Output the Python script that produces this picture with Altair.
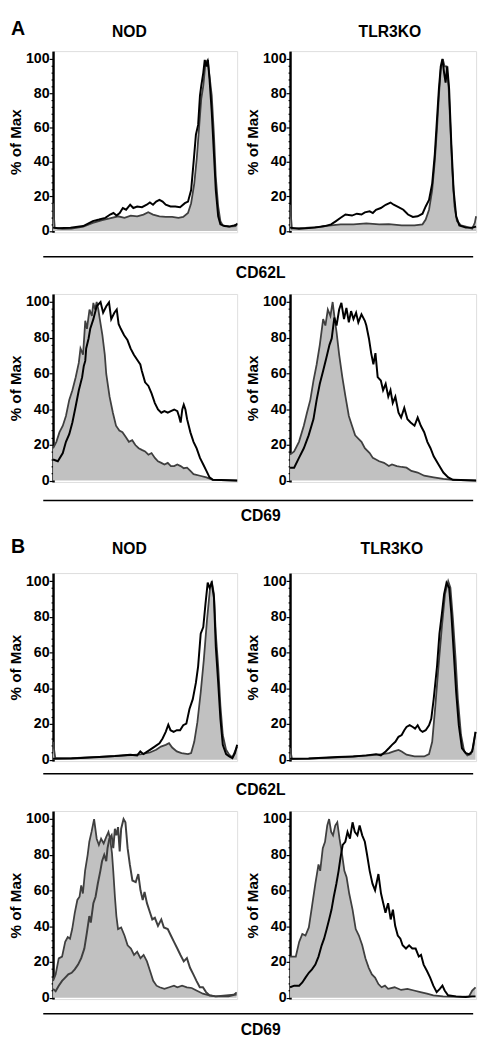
import altair as alt
import pandas as pd

FONT = "Liberation Sans"
SECTIONS = ["A", "B"]
STRAINS = ["NOD", "TLR3KO"]
MARKERS = ["CD62L", "CD69"]
Y_TITLE = "% of Max"
Y_TICKS = [0, 4, 8, 12, 16, 20, 24, 28, 32, 36, 40, 44, 48, 52, 56, 60,
           64, 68, 72, 76, 80, 84, 88, 92, 96, 100]

FILL_COLOR = "#c1c1c1"
GRAY_LINE = "#3f3f3f"

# (position along the axis in % of width, % of Max)
A_CD62L_NOD_FILL = [(0,16),(0.9,1.9),(5,1.2),(10,1.3),(16.4,2.5),(21.6,4.7),(26.7,6.3),(31.9,7.6),(35.3,8.5),(38.8,7.6),(42.2,8.9),(45.7,8.5),(49.1,9.5),(51.7,10.8),(54.3,9.5),(57.8,8.5),(61.2,8.1),(64.7,8.1),(68.1,7.6),(70.7,8.1),(73.3,10.4),(75,16.1),(76.7,27.5),(78.1,42.6),(79.3,59.7),(80.5,76.7),(81.6,84.3),(82.8,97.5),(84,99.4),(85,90),(86.2,78.6),(87.4,55.9),(88.4,31.3),(89.7,14.2),(90.9,5.7),(92.2,3.2),(95.7,2.5),(99.1,2.8),(100,4.4)]
A_CD62L_NOD_OPEN = [(0,1.9),(2.6,1.5),(9.5,1.9),(16.4,2.8),(21.6,5.7),(25,6.6),(28.4,7.6),(31,9.5),(32.8,10.4),(34.5,8.9),(36.2,10.4),(37.9,13.3),(39.7,12.3),(41.9,15.2),(43.6,13.3),(45.7,14.2),(48.3,13.8),(50.9,15.2),(52.6,16.5),(54.3,15.2),(56,17),(57.8,18),(59.5,17),(61.2,15.2),(63.8,14.2),(66.4,14.2),(69,13.8),(71.6,16.1),(73.3,17),(75,23.7),(76.4,40.7),(77.6,55.9),(78.8,61.6),(79.8,78.6),(80.5,84.3),(81.6,91.9),(82.4,99.4),(83.3,95.6),(84.1,99.4),(85,88),(86.2,69.1),(87.4,44.5),(88.4,23.7),(89.7,8.5),(90.9,3.8),(93.1,2.8),(95.7,2.5),(98.3,3.2),(100,3.8)]

A_CD62L_TLR3KO_FILL = [(0,15.2),(1,1.3),(8.3,1.7),(16.9,2.5),(22.1,3.2),(27.2,3.8),(34.1,3.8),(41,4.4),(47.9,3.8),(53.1,4),(60,3.2),(66.9,3.2),(71.2,3.8),(72.9,6.6),(74.7,12.3),(76.4,23.7),(77.8,40.7),(79,59.7),(80,78.6),(81,93.8),(82.1,99.8),(83.1,95.6),(84.1,95.6),(85.2,84.3),(86.2,59.7),(87.2,35),(88.4,14.2),(89.7,5.7),(91.9,3.2),(94.5,2.5),(97.9,1.3),(99.3,4.7),(100,8.5)]
A_CD62L_TLR3KO_OPEN = [(0,1.9),(4.8,1.3),(13.4,1.9),(18.6,2.8),(22.1,3.8),(24.7,5.7),(27.2,7.6),(29.8,9.5),(33.3,8.9),(35.9,10),(38.4,9.5),(40.2,10.8),(42.8,11.4),(44.5,10.4),(46.2,12.3),(48.8,13.3),(51.4,15.2),(54,16.5),(55.7,15.2),(58.3,13.8),(60.9,12.3),(63.4,9.5),(66,8.1),(68.6,8.5),(71.2,10),(72.9,14.2),(74.7,18),(76.4,27.5),(77.8,44.5),(79,65.3),(80,82.4),(81,95.6),(81.9,100),(82.8,91.9),(83.6,86.2),(84.5,95.6),(85.5,82.4),(86.7,50.2),(87.9,23.7),(89.3,8.5),(91,3.2),(94.5,1.9),(97.9,1.9),(100,2.5)]

A_CD69_NOD_FILL = [(0,18.1),(1.8,21.7),(3.5,27.1),(5.3,30.7),(7,36.2),(8.8,45.2),(10.5,50.6),(12.3,57.9),(14,66),(14.9,74),(16.3,70.5),(17.5,89.5),(18.4,85),(19.8,95.8),(21.1,92.2),(21.9,99.5),(22.8,95.8),(23.7,100),(24.6,95.8),(25.4,90.4),(26.8,81.4),(28.1,70.5),(28.9,59.7),(30.7,47),(32.5,38),(34.2,30.7),(36,28),(37.7,27.1),(39.5,24.4),(41.2,21.7),(43,22.6),(44.7,19.9),(46.5,18.1),(48.2,17.2),(50,16.3),(51.8,14.5),(53.5,15.4),(55.3,12.7),(57,10.8),(58.8,9.9),(60.5,9),(62.3,9.9),(64,8.1),(65.8,8.1),(67.5,9),(69.3,8.1),(71,6.9),(72.8,7.2),(74.6,5.4),(76.3,3.6),(79.8,2.7),(83.3,1.8),(86.8,0.4),(100,0)]
A_CD69_NOD_OPEN = [(0,11.8),(2.6,10.8),(5.3,15.4),(7,21.7),(8.8,26),(10.5,32.5),(12.3,41.6),(14,50.6),(15.8,57.9),(16.7,64.2),(17.5,67),(18,74),(19.3,79.6),(20.2,85),(21.9,90.4),(23.7,97.6),(25.8,100),(27.2,94),(28.9,97.6),(30.4,99.8),(31.6,90.4),(33.3,94),(34.6,95.8),(35.6,87.7),(36.8,85),(38.6,81.4),(40.4,78.7),(42.1,74),(43.9,70.5),(45.6,67.8),(47.4,65),(48.2,61.5),(50,55),(51.8,53),(53.5,48.8),(55.3,43.4),(57,39.8),(58.8,38),(60.5,38.9),(62.3,38),(64,38.9),(65.8,39.8),(67.5,38.9),(68.4,36),(69.3,32.5),(70.2,39.8),(71,42.5),(71.9,39.8),(72.8,34.4),(74.6,27),(76.3,21.7),(78,18),(79.8,12.7),(81.6,9),(83.3,5.4),(85,1.8),(86.8,0.4),(100,0)]

A_CD69_TLR3KO_FILL = [(0,14.5),(2.2,16.3),(4.8,21.7),(7.4,30.7),(9.1,38),(10.9,45.2),(12.6,56),(14.3,65),(16,76),(17.8,90.4),(19,86.8),(20.3,95.8),(21.7,92.2),(22.9,100),(23.8,92.2),(25,83.2),(26.4,70.5),(28.1,57.9),(29.8,47),(31.6,36.2),(33.3,30.7),(35,25.3),(36.7,23.5),(38.4,21.7),(40.2,18.1),(42.8,15.4),(44.5,12.7),(46.2,11.8),(47.9,10.8),(50.5,9.9),(53.1,8.1),(54.8,9),(57.4,8.1),(60,7.6),(62.6,7.2),(65.2,5.4),(68.6,4.5),(72.1,2.7),(77.2,1.8),(82.4,0.9),(87.6,0.4),(100,0)]
A_CD69_TLR3KO_OPEN = [(0,7.2),(2.2,7.2),(4.8,12.7),(7.4,18.1),(10,25.3),(12.6,34.4),(14.3,45.2),(16,54.2),(17.8,61.5),(19.5,68.7),(21.2,76),(22.4,79.6),(23.8,91.3),(25,86.8),(26.4,95.8),(27.6,99.5),(29,90.4),(30.3,96.7),(31.6,88.6),(32.8,94.9),(34.1,90.4),(35.5,94),(36.7,88.6),(38.4,93.1),(40.2,89.5),(41,86.8),(42.4,79.6),(43.6,71.4),(44.8,65.1),(45.9,71.4),(47.1,57.9),(48.8,56),(50,50.6),(51.4,54.2),(52.8,47),(54,50.6),(55.2,43.4),(56.6,47),(58.3,38),(59.7,35.3),(61.4,40.7),(63.1,34.4),(64.8,32.5),(66.9,30.7),(68.6,35.3),(70.3,30.7),(72.1,27.1),(73.8,21.7),(75.5,18.1),(77.2,13.6),(79.8,9),(82.4,4.5),(85,1.8),(87.6,0.4),(100,0)]

B_CD62L_NOD_FILL = [(0,10),(1.2,1),(10,0.8),(25,1.5),(33.6,2),(42,2.5),(47.4,3),(52.6,4),(56,5.5),(58.6,7.3),(61.2,8.3),(63,9.2),(64.7,6.8),(67.2,4.6),(69.8,3.7),(73.3,3.1),(75,3.7),(76.7,10),(78.4,21),(80.2,37.6),(81.9,56),(83.6,78),(85.3,96.3),(86.2,100),(87.4,92.7),(88.4,70.6),(89.7,52.3),(90.9,30.3),(92.2,13.8),(94,5.5),(95.7,2.8),(97.4,1.3),(98.8,4.6),(100,7.3)]
B_CD62L_NOD_OPEN = [(0,0.5),(10,0.7),(25,1.5),(33.6,2),(42,2.8),(45.7,2.4),(47.4,4.6),(49.1,3.1),(52.6,5.5),(55.2,7.3),(57.8,9.2),(59.5,11.9),(61.2,15.6),(62.6,19.6),(63.8,16.5),(65.5,15.6),(67.2,16.5),(69,16.5),(70.7,19.3),(72.4,20.2),(74.1,28.4),(75.9,33.9),(77.6,43.1),(78.8,52.3),(80.2,70.6),(81.6,74.3),(82.8,87.2),(84,99.1),(85,96.3),(86.2,99),(87.4,90.8),(88.4,63.3),(89.7,43.1),(90.9,22.9),(92.2,8.3),(94,3.1),(95.7,1.8),(97.4,0.9),(98.8,3.7),(100,8.3)]

B_CD62L_TLR3KO_FILL = [(0,6.4),(1,0.5),(10,0.6),(25.5,1.3),(34,1.8),(42.8,2.4),(49.7,3.1),(53.1,3.7),(55.7,4.6),(58.3,5.5),(60,4.6),(62.6,2.8),(66.9,1.8),(72.1,1.8),(74.7,3.1),(76.4,10),(78.1,30.3),(79.8,52.3),(81.6,74.3),(83.3,92.7),(85,100),(86.2,96.3),(87.6,78),(89,56),(90.2,33.9),(91.9,13.8),(93.6,4.6),(95.3,2.4),(97.1,3.1),(98.3,6.4),(99.7,15.6)]
B_CD62L_TLR3KO_OPEN = [(0,0.5),(10,0.6),(25.5,1.5),(34,1.8),(41,2.4),(46.2,3.1),(48.8,2.4),(51.4,4.6),(53.1,6.4),(54.8,8.3),(56.6,10),(58.3,12.8),(60,13.8),(61.4,16.5),(62.6,18.3),(64.3,19.3),(66,18.3),(67.2,17.4),(68.6,19.3),(70,16.5),(71.2,15.6),(72.9,16.5),(74.7,19.3),(75.9,22.9),(77.2,33.9),(79,52.3),(80.3,70.6),(81.6,81.7),(82.8,92.7),(84.1,99),(85.5,96.3),(86.7,81.7),(87.9,61.5),(89.3,37.6),(90.7,19.3),(92.4,6.4),(94.5,3.7),(96.2,3.1),(97.9,4.6),(99.7,15.6)]

B_CD69_NOD_FILL = [(0,9.4),(1.4,13),(3.1,22),(4.9,23),(6.6,31.2),(8,33.9),(9.2,33),(10.4,38.4),(11.8,47.5),(13.2,54.7),(14.4,56.5),(15.3,62.9),(16.2,58.3),(17.4,71),(18.8,80),(19.7,87.3),(20.9,92.8),(22.3,100),(23.7,89),(24.9,85.5),(26.1,89),(27.5,86.4),(28.9,90),(30.1,92.8),(31,89),(32,81),(32.7,71),(33.6,56.5),(34.4,45.7),(35.3,38.4),(37,39.3),(38.8,34.8),(40.5,29.3),(42.3,27.5),(44,23.9),(45.7,25.7),(47.5,22.1),(49.2,23.9),(51,20.3),(52.7,14.9),(54.4,9.4),(56.2,6.7),(57.9,5.8),(60.5,4.9),(63.1,5.8),(65.7,6.7),(67.5,5.8),(70.1,6.7),(72.7,5.8),(75.3,5.4),(77.9,4),(81.4,2.2),(84.9,1.3),(88.3,0.7),(95.3,0.7),(97.9,1.3),(99.7,3)]
B_CD69_NOD_OPEN = [(0,4.9),(1.4,3.6),(3.1,6.7),(4.9,9.4),(6.6,11.2),(8.3,13),(10.1,13.9),(11.8,15.8),(13.6,18.5),(15.3,22.1),(17,27.5),(18.4,36.6),(19.7,45.7),(20.5,42),(21.9,52.9),(23.1,56.5),(24.3,63.8),(25.7,71),(26.6,76.4),(27.8,80),(28.9,76.4),(29.6,83.7),(30.6,89),(31.8,90.9),(32.7,83.7),(33.6,94.6),(34.4,90.9),(35.3,95.5),(36.2,81.9),(37,94.6),(38.3,100),(39.3,98.2),(40.5,83.7),(41.7,74.6),(43.1,65.6),(44.9,64.7),(46.3,69.2),(47.5,60.1),(48.7,54.7),(49.7,59.2),(51,52.9),(52.7,47.5),(53.9,43.8),(55.3,44.7),(57,40.2),(58.8,43.8),(60.2,39.3),(62.3,38.4),(64,34.8),(65.7,31.2),(67.5,27.5),(69.2,23.9),(71,20.3),(72.7,22.1),(74.4,16.7),(76.2,13),(77.9,9.4),(79.7,5.8),(81.4,5.8),(83.1,3.1),(84.9,1.3),(88.3,0.7),(99.7,1.8)]

B_CD69_TLR3KO_FILL = [(0,23),(3.1,23),(4.9,31.2),(6.6,35.7),(8.3,34.8),(10.1,39.3),(11.8,51.1),(13.6,63.8),(15.3,74.6),(16.2,71),(17.6,83.7),(18.8,87.3),(20,96.4),(21,100),(22.1,92.8),(23.1,90.9),(24.3,96.4),(25.4,98.2),(26.6,89),(28,80),(29.2,71),(30.4,67.4),(31.8,58.3),(33.6,49.3),(35.3,38.4),(37,34.8),(38.8,29.3),(40.5,22.1),(42.3,16.7),(44,13),(45.7,11.2),(47.5,7.6),(49.2,5.8),(51,6.7),(52.7,4.9),(56.2,5.8),(59.7,4.3),(63.1,4.9),(66.6,4),(70.1,3.1),(73.6,2.2),(77,1.3),(82.3,0.7),(92.7,0.4),(96.2,0.7),(97.9,4),(99.7,5.8)]
B_CD69_TLR3KO_OPEN = [(0,5.8),(2.3,6.7),(4.9,6.7),(6.6,8.5),(8.3,11.2),(10.1,13.9),(11.8,15.8),(13.6,18.5),(15.3,23),(17,29.3),(18.3,33),(19.7,38.4),(21,43.8),(22.3,49.3),(23.5,56.5),(24.9,63.8),(26.1,71),(27.1,78.3),(28.3,85.5),(29.7,87.3),(30.9,92.8),(32.2,89),(33.6,98.2),(34.8,92.8),(36.2,90.9),(37.4,96.4),(38.8,90.9),(40.2,87.3),(41.4,80),(42.8,71),(44.3,63.8),(45.7,60.1),(47.5,69.2),(48.9,58.3),(50.1,52.9),(51.3,47.5),(52.7,52.9),(54.1,43.8),(55.3,49.3),(56.5,40.2),(57.9,34.8),(59.3,33),(60.5,29.3),(62.3,27.5),(64,29.3),(65.7,27.5),(67.5,27.5),(69.2,23),(70.4,23.9),(71.8,18.5),(73.6,14.9),(75.3,11.2),(77,6.7),(78.8,3.1),(80.5,4.9),(81.9,6.7),(83.1,4),(84.9,1.3),(89.2,0.7),(94.4,0.4),(97.9,0.7),(99.7,0.7)]

W_LEFT = 188
W_RIGHT = 190
GAP = 54
H_ROW = [185, 192, 192, 192]


def y_axis():
    return alt.Axis(
        title=Y_TITLE, titleFont=FONT, titleFontSize=15.5, titleFontWeight="bold",
        titleColor="black", titlePadding=2,
        values=Y_TICKS,
        labelExpr="datum.value % 20 === 0 ? datum.label : ''",
        labelFont=FONT, labelFontSize=14.5, labelFontWeight="bold", labelColor="black",
        labelPadding=0, labelOverlap=False, labelBound=False, labelFlush=False,
        tickColor="black", tickWidth=1.2,
        tickSize={"condition": {"test": "datum.value % 20 === 0", "value": 4}, "value": 2},
        domainColor="black", domainWidth=2.5, grid=False,
    )


def text_layer(label, x, y, size, align="center", baseline="middle"):
    return alt.Chart(pd.DataFrame({"t": [label]})).mark_text(
        font=FONT, fontSize=size, fontWeight="bold", align=align,
        baseline=baseline, color="black",
    ).encode(x=alt.value(x), y=alt.value(y), text="t:N")


def panel(fill, open_pts, open_color, w, h, col_title=None, col_x=None, col_y=None,
          letter=None, letter_y=None, sep=None):
    fdf = pd.DataFrame(fill, columns=["x", "y"])
    odf = pd.DataFrame(open_pts, columns=["x", "y"])
    X = alt.X("x:Q", scale=alt.Scale(domain=[0, 100], nice=False, zero=False), axis=None)
    Y = alt.Y("y:Q", scale=alt.Scale(domain=[-0.8, 104.5], nice=False, zero=False),
              axis=y_axis())
    area = alt.Chart(fdf).mark_area(color=FILL_COLOR, opacity=1).encode(x=X, y=Y)
    gline = alt.Chart(fdf).mark_line(color=GRAY_LINE, strokeWidth=1.8).encode(x=X, y=Y)
    oline = alt.Chart(odf).mark_line(color=open_color, strokeWidth=2).encode(x=X, y=Y)
    layers = [area, gline, oline]
    if col_title is not None:
        layers.append(text_layer(col_title, col_x, col_y, 16))
    if letter is not None:
        layers.append(text_layer(letter, -43, letter_y, 20, align="left", baseline="top"))
    if sep is not None:
        label, r_off, t_off = sep
        rule = alt.Chart(pd.DataFrame({"t": [label]})).mark_rule(
            color="black", strokeWidth=1.5
        ).encode(x=alt.value(-10), x2=alt.value(w + GAP + W_RIGHT - 3), y=alt.value(h + r_off))
        layers.append(rule)
        layers.append(text_layer(label, 212, h + t_off, 16))
    return alt.layer(*layers).properties(width=w, height=h)


def row(left, right):
    return alt.hconcat(left, right, spacing=GAP, bounds="flush")


row1 = row(
    panel(A_CD62L_NOD_FILL, A_CD62L_NOD_OPEN, "black", W_LEFT, H_ROW[0],
          col_title=STRAINS[0], col_x=78, col_y=-19, letter=SECTIONS[0], letter_y=-32,
          sep=(MARKERS[0], 25, 42)),
    panel(A_CD62L_TLR3KO_FILL, A_CD62L_TLR3KO_OPEN, "black", W_RIGHT, H_ROW[0],
          col_title=STRAINS[1], col_x=102, col_y=-19),
)
row2 = row(
    panel(A_CD69_NOD_FILL, A_CD69_NOD_OPEN, "black", W_LEFT, H_ROW[1],
          sep=(MARKERS[1], 19, 35)),
    panel(A_CD69_TLR3KO_FILL, A_CD69_TLR3KO_OPEN, "black", W_RIGHT, H_ROW[1]),
)
row3 = row(
    panel(B_CD62L_NOD_FILL, B_CD62L_NOD_OPEN, "black", W_LEFT, H_ROW[2],
          col_title=STRAINS[0], col_x=78, col_y=-24, letter=SECTIONS[1], letter_y=-37,
          sep=(MARKERS[0], 13, 30)),
    panel(B_CD62L_TLR3KO_FILL, B_CD62L_TLR3KO_OPEN, "black", W_RIGHT, H_ROW[2],
          col_title=STRAINS[1], col_x=104, col_y=-24),
)
row4 = row(
    panel(B_CD69_NOD_FILL, B_CD69_NOD_OPEN, GRAY_LINE, W_LEFT, H_ROW[3],
          sep=(MARKERS[1], 15, 32)),
    panel(B_CD69_TLR3KO_FILL, B_CD69_TLR3KO_OPEN, "black", W_RIGHT, H_ROW[3]),
)

chart = alt.vconcat(row1, row2, row3, row4, spacing=11).properties(
    padding=0
).configure_view(stroke="#808080", strokeWidth=1).configure(background="white")

chart.save("out.html", embed_options={"renderer": "svg", "actions": False})
